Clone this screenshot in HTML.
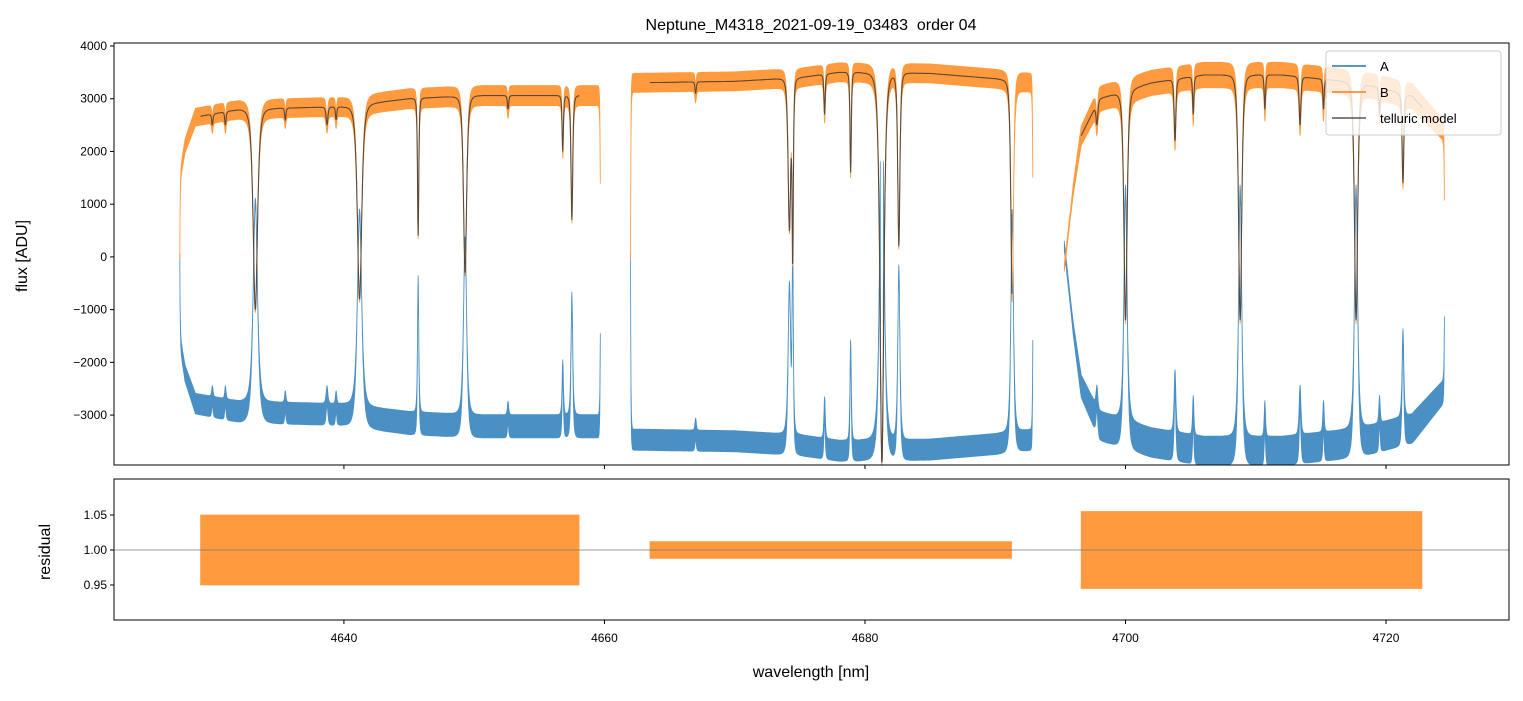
<!DOCTYPE html>
<html><head><meta charset="utf-8">
<style>
body{margin:0;background:#fff;}
svg text{font-family:"Liberation Sans","DejaVu Sans",sans-serif;fill:#000;}
</style></head>
<body>
<svg id="chart" width="1523" height="696" viewBox="0 0 1523 696" xmlns="http://www.w3.org/2000/svg">
<rect width="1523" height="696" fill="#fff"/>
<text x="811" y="30" font-size="16" text-anchor="middle">Neptune_M4318_2021-09-19_03483&#160; order 04</text>
<g id="topg"></g>
<g id="botg"></g>
<text transform="translate(27,256) rotate(-90)" font-size="16" text-anchor="middle">flux [ADU]</text>
<text transform="translate(50,552) rotate(-90)" font-size="16" text-anchor="middle">residual</text>
<text x="811" y="677" font-size="16" text-anchor="middle">wavelength [nm]</text>
<g>
<rect x="1326" y="51" width="175" height="84" rx="3" fill="#fff" fill-opacity="0.8" stroke="#ccc"/>
<line x1="1332" y1="66" x2="1366" y2="66" stroke="#1f77b4" stroke-width="1.5"/>
<text x="1380" y="71" font-size="13">A</text>
<line x1="1332" y1="92" x2="1366" y2="92" stroke="#ff7f0e" stroke-width="1.5"/>
<text x="1380" y="97" font-size="13">B</text>
<line x1="1332" y1="118" x2="1366" y2="118" stroke="#555" stroke-width="1.5"/>
<text x="1380" y="123" font-size="13">telluric model</text>
</g>
</svg>
<script>
const segStart=[4627.4,4662.0,4695.3];
const segEnd=[4659.7,4692.9,4724.5];
const modelStart=[4629.0,4663.5,4696.6];
const modelEnd=[4658.1,4691.3,4722.8];
const contWl=[[4627.4,4627.8,4628.6,4632,4640,4645,4650,4659.6],[4662,4670,4675,4678,4685,4690,4692.8],[4695.3,4696.0,4696.6,4698,4702,4706,4712,4718,4722,4724.4]];
const contVal=[[1500,2100,2650,2800,2850,3000,3060,3060],[3300,3330,3400,3500,3480,3380,3300],[-200,1300,2300,3000,3300,3450,3450,3300,3050,2400]];
const aOffset=[-150,-150,-200];
const lineWl=[4633.2,4641.2,4645.7,4649.3,4656.8,4657.5,4629.9,4630.9,4635.5,4638.7,4639.4,4652.6,4674.2,4674.45,4676.9,4678.9,4681.3,4682.6,4691.3,4667,4697.8,4700.0,4703.8,4708.8,4713.4,4717.7,4721.3,4705.2,4710.7,4715.2,4719.5];
const lineMin=[-1000,-800,400,-300,2000,700,2500,2500,2600,2500,2600,2800,500,-200,2700,1600,-3900,200,-800,3100,2500,-1200,2200,-1200,2500,-1200,1400,2700,2800,2800,2700];
const lineHw=[0.3,0.3,0.09,0.22,0.09,0.12,0.09,0.09,0.09,0.12,0.09,0.09,0.18,0.09,0.09,0.09,0.27,0.15,0.18,0.09,0.12,0.22,0.12,0.22,0.12,0.22,0.12,0.09,0.09,0.09,0.09];
const bNoise=[190,180,240];
const aNoise=[220,200,280];
const resAmp=[0.05,0.012,0.055];
const xTicks=[4640,4660,4680,4700,4720];
const yTicks=[-3000,-2000,-1000,0,1000,2000,3000,4000];
const rTicks=[0.95,1.00,1.05];

const NS="http://www.w3.org/2000/svg";
const L=114,R=1509,T1=43,B1=465,T2=479,B2=620;
const X0=4622.35,X1=4729.44;
const sx=w=>L+(w-X0)/(X1-X0)*(R-L);
const sy=v=>T1+(4057-v)/(4057+3947)*(B1-T1);
const sr=v=>T2+(1.1014-v)/(1.1014-0.9)*(B2-T2);
function mk(tag,attrs,parent){const e=document.createElementNS(NS,tag);for(const k in attrs)e.setAttribute(k,attrs[k]);parent.appendChild(e);return e;}
function interp(xs,ys,x){if(x<=xs[0])return ys[0];for(let i=1;i<xs.length;i++){if(x<=xs[i]){const t=(x-xs[i-1])/(xs[i]-xs[i-1]);return ys[i-1]+t*(ys[i]-ys[i-1]);}}return ys[ys.length-1];}
function model(s,w){let c=interp(contWl[s],contVal[s],w);for(let i=0;i<lineWl.length;i++){const d=(w-lineWl[i])/lineHw[i];if(Math.abs(d)<6){const q=1+d*d;const l=1/(q*q);c=c-(c-lineMin[i])*l;}}
 const e1=(w-segStart[s])/0.03,e2=(segEnd[s]-w)/0.03;c=c*(1-Math.exp(-Math.max(0,e2)));if(s!==2)c=c*(1-Math.exp(-Math.max(0,e1)));return c;}
const gTop=document.getElementById('topg'),gBot=document.getElementById('botg');
const defs=mk('defs',{},gTop);
const clip=mk('clipPath',{id:'c1'},defs);mk('rect',{x:L,y:T1,width:R-L,height:B1-T1},clip);
const clip2=mk('clipPath',{id:'c2'},defs);mk('rect',{x:L,y:T2,width:R-L,height:B2-T2},clip2);
const gA=mk('g',{'clip-path':'url(#c1)'},gTop);
const gB=mk('g',{'clip-path':'url(#c1)'},gTop);
const gM=mk('g',{'clip-path':'url(#c1)'},gTop);
const gR=mk('g',{'clip-path':'url(#c2)'},gBot);
for(let s=0;s<3;s++){
 let up=[],dn=[],aup=[],adn=[],mp=[];
 for(let w=segStart[s];w<=segEnd[s];w+=0.02){
  const m=model(s,w);const x=sx(w).toFixed(1);
  const f=Math.max(0.3,Math.min(1,m/3000));
  up.push(x+','+sy(m+bNoise[s]*f).toFixed(1));dn.unshift(x+','+sy(m-bNoise[s]*f).toFixed(1));
  const a=m< -2000 ? m : -m+aOffset[s]*(m/3000);
  aup.push(x+','+sy(a+aNoise[s]*f).toFixed(1));adn.unshift(x+','+sy(a-aNoise[s]*f).toFixed(1));
  if(w>=modelStart[s]&&w<=modelEnd[s])mp.push(x+','+sy(m).toFixed(1));
 }
 const pa=mk('polygon',{points:aup.concat(adn).join(' '),fill:'#4a90c4',stroke:'#4a90c4','stroke-width':0.8,'stroke-linejoin':'round'},gA);
 
 
 const pb=mk('polygon',{points:up.concat(dn).join(' '),fill:'#ff9a3e',stroke:'#ff9a3e','stroke-width':0.8,'stroke-linejoin':'round'},gB);
 
 
 const pm=mk('polyline',{points:mp.join(' '),fill:'none',stroke:'#333','stroke-opacity':0.8,'stroke-width':1.1},gM);
 
 
 let ru=[],rd=[];
 for(let w=modelStart[s];w<=modelEnd[s];w+=0.05){const x=sx(w).toFixed(1);ru.push(x+','+sr(1+resAmp[s]).toFixed(1));rd.unshift(x+','+sr(1-resAmp[s]).toFixed(1));}
 const pr=mk('polygon',{points:ru.concat(rd).join(' '),fill:'#ff9a3e',stroke:'#ff9a3e','stroke-width':0.8},gR);
 
 
}
const hl=mk('line',{x1:L,x2:R,y1:sr(1),y2:sr(1),stroke:'#777','stroke-width':0.8},gBot);


for(const [t,b,g] of [[T1,B1,gTop],[T2,B2,gBot]]){const f=mk('rect',{x:L,y:t,width:R-L,height:b-t,fill:'none',stroke:'#000','stroke-width':1},g);
 
 }
xTicks.forEach(v=>{const x=sx(v);
 mk('line',{x1:x,x2:x,y1:B1,y2:B1+4,stroke:'#000'},gTop);
 mk('line',{x1:x,x2:x,y1:B2,y2:B2+4,stroke:'#000'},gBot);
 const t=mk('text',{x:x,y:B2+22,'font-size':12,'text-anchor':'middle'},gBot);t.textContent=v;
 
 });
yTicks.forEach(v=>{const y=sy(v);mk('line',{x1:L-4,x2:L,y1:y,y2:y,stroke:'#000'},gTop);
 const t=mk('text',{x:L-7,y:y+4,'font-size':12,'text-anchor':'end'},gTop);t.textContent=v<0?'\u2212'+(-v):v;
 
 });
rTicks.forEach(v=>{const y=sr(v);mk('line',{x1:L-4,x2:L,y1:y,y2:y,stroke:'#000'},gBot);
 const t=mk('text',{x:L-7,y:y+4,'font-size':12,'text-anchor':'end'},gBot);t.textContent=v.toFixed(2);
 
 });
</script>
</body></html>
